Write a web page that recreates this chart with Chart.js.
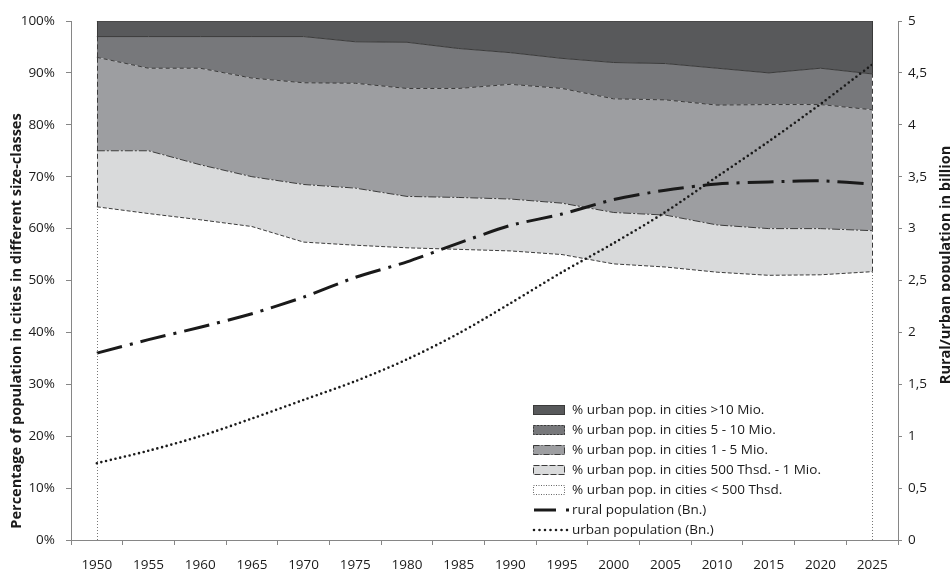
<!DOCTYPE html>
<html>
<head>
<meta charset="utf-8">
<script src="https://cdn.jsdelivr.net/npm/chart.js@4.4.1/dist/chart.umd.min.js"></script>
<style>
    html, body { margin: 0; padding: 0; background: #ffffff; }
    #chart { display: block; }
</style>
</head>
<body>
<canvas id="chart" width="950" height="572"></canvas>
<script>
// Data

let years = ['1950', '1955', '1960', '1965', '1970', '1975', '1980', '1985',
    '1990', '1995', '2000', '2005', '2010', '2015', '2020', '2025'];

// share of urban population per size class, in percent (stacked bottom -> top)
let under500k = [64.2, 62.9, 61.7, 60.4, 57.4, 56.8, 56.3, 56.0, 55.7, 55.0, 53.2, 52.6, 51.6, 51.0, 51.1, 51.7];
let from500kTo1m = [10.8, 12.1, 10.6, 9.6, 11.1, 11.0, 9.9, 10.0, 10.0, 9.9, 9.9, 10.0, 9.1, 9.0, 8.9, 7.9];
let from1To5m = [18.0, 15.9, 18.6, 19.0, 19.6, 20.2, 20.8, 21.0, 22.1, 22.1, 21.9, 22.2, 23.1, 23.9, 23.9, 23.3];
let from5To10m = [4.0, 6.1, 6.1, 8.0, 8.9, 8.0, 8.9, 7.7, 6.1, 5.8, 7.0, 7.0, 7.1, 6.1, 7.0, 6.9];
let over10m = [3.0, 3.0, 3.0, 3.0, 3.0, 4.0, 4.1, 5.3, 6.1, 7.2, 8.0, 8.2, 9.1, 10.0, 9.1, 10.2];

// population in billion (right axis)
let ruralBn = [1.80, 1.93, 2.05, 2.18, 2.34, 2.53, 2.68, 2.86, 3.03, 3.14, 3.28, 3.37, 3.43, 3.45, 3.46, 3.43];
let urbanBn = [0.74, 0.86, 1.00, 1.17, 1.35, 1.53, 1.74, 1.99, 2.28, 2.58, 2.86, 3.16, 3.50, 3.84, 4.20, 4.58];

let leftTitle = 'Percentage of population in cities in different size-classes';
let rightTitle = 'Rural/urban population in billion';

Chart.defaults.font.family = "'Open Sans', sans-serif";
Chart.defaults.font.size = 13.5;
Chart.defaults.color = '#1a1a1a';

const AXIS_GREY = '#868686';

function areaDataset(label, data, fillColor, lineDash, edgeDash, legendDash, fill) {
    return {
        type: 'line',
        label: label,
        data: data,
        yAxisID: 'y',
        fill: fill,
        backgroundColor: fillColor,
        borderColor: '#3a3a3a',
        borderWidth: 1,
        borderDash: lineDash,
        pointRadius: 0,
        tension: 0,
        edgeDash: edgeDash,
        legendDash: legendDash,
        isArea: true,
    };
}

let datasets = [
    {
        type: 'line',
        label: 'urban population (Bn.)',
        data: urbanBn,
        yAxisID: 'y1',
        borderColor: '#1a1a1a',
        borderWidth: 2.6,
        borderDash: [0, 4.8],
        legendDash: [0, 5.5],
        borderCapStyle: 'round',
        pointRadius: 0,
        fill: false,
        tension: 0.3,
    },
    {
        type: 'line',
        label: 'rural population (Bn.)',
        data: ruralBn,
        yAxisID: 'y1',
        borderColor: '#1a1a1a',
        borderWidth: 3,
        borderDash: [26, 8, 3, 8],
        legendDash: [22, 10, 3, 10],
        pointRadius: 0,
        fill: false,
        tension: 0.25,
    },
    areaDataset('% urban pop. in cities < 500 Thsd.', under500k, '#ffffff', [4, 2], [1, 2], [1, 1.5], 'origin'),
    areaDataset('% urban pop. in cities 500 Thsd. - 1 Mio.', from500kTo1m, '#d9dadb', [8, 2, 2, 2], [5, 3], [6, 2], '-1'),
    areaDataset('% urban pop. in cities 1 - 5 Mio.', from1To5m, '#9d9ea1', [4, 3], [5, 3], [6, 2, 1, 2], '-1'),
    areaDataset('% urban pop. in cities 5 - 10 Mio.', from5To10m, '#77787b', [], [5, 3], [2, 1.5], '-1'),
    areaDataset('% urban pop. in cities >10 Mio.', over10m, '#58595b', [], [], [], '-1'),
];

// vertical edges of the stacked areas at the first and last year
let areaEdges = {
    id: 'areaEdges',
    afterDatasetsDraw(chart) {
        let ctx = chart.ctx;
        let yScale = chart.scales.y;
        let prevMeta = null;
        chart.data.datasets.forEach((ds, i) => {
            if (!ds.isArea) return;
            let meta = chart.getDatasetMeta(i);
            [0, meta.data.length - 1].forEach(idx => {
                let top = meta.data[idx];
                let bottomY = prevMeta ? prevMeta.data[idx].y : yScale.getPixelForValue(0);
                ctx.save();
                ctx.strokeStyle = ds.edgeDash.length && ds.edgeDash[0] < 2 ? '#777' : '#3a3a3a';
                ctx.lineWidth = 1;
                ctx.setLineDash(ds.edgeDash);
                ctx.beginPath();
                ctx.moveTo(Math.round(top.x) + 0.5, bottomY);
                ctx.lineTo(Math.round(top.x) + 0.5, top.y);
                ctx.stroke();
                ctx.restore();
            });
            prevMeta = meta;
        });
    }
};

// axis titles (both read bottom -> top) and the legend inside the plot
let decorations = {
    id: 'decorations',
    afterDraw(chart) {
        let ctx = chart.ctx;
        let area = chart.chartArea;

        ctx.save();
        ctx.fillStyle = '#1a1a1a';
        ctx.font = "bold 14.5px 'Open Sans', sans-serif";
        ctx.textAlign = 'center';
        ctx.textBaseline = 'alphabetic';
        ctx.translate(20.5, 321);
        ctx.rotate(-Math.PI / 2);
        ctx.fillText(leftTitle, 0, 0);
        ctx.restore();

        ctx.save();
        ctx.fillStyle = '#1a1a1a';
        ctx.font = "bold 14.5px 'Open Sans', sans-serif";
        ctx.textAlign = 'center';
        ctx.textBaseline = 'alphabetic';
        ctx.translate(949.5, 265);
        ctx.rotate(-Math.PI / 2);
        ctx.fillText(rightTitle, 0, 0);
        ctx.restore();

        // legend
        let items = [6, 5, 4, 3, 2, 1, 0].map(i => chart.data.datasets[i]);
        let x0 = area.left + 462;
        let y0 = area.bottom - 130;
        ctx.save();
        ctx.font = "13.5px 'Open Sans', sans-serif";
        ctx.textBaseline = 'middle';
        ctx.textAlign = 'left';
        items.forEach((ds, row) => {
            let y = y0 + row * 20;
            if (ds.isArea) {
                ctx.fillStyle = ds.backgroundColor;
                ctx.fillRect(x0, y - 5, 32, 10);
                ctx.strokeStyle = ds.legendDash.length && ds.legendDash[0] < 2 ? '#666' : '#3a3a3a';
                ctx.lineWidth = 1;
                ctx.setLineDash(ds.legendDash);
                ctx.strokeRect(x0 + 0.5, y - 4.5, 31, 9);
            } else {
                ctx.strokeStyle = ds.borderColor;
                ctx.lineWidth = ds.borderWidth;
                ctx.lineCap = ds.borderCapStyle || 'butt';
                ctx.setLineDash(ds.legendDash);
                ctx.beginPath();
                ctx.moveTo(x0 + 1, y);
                ctx.lineTo(x0 + 36, y);
                ctx.stroke();
                ctx.lineCap = 'butt';
            }
            ctx.setLineDash([]);
            ctx.fillStyle = '#1a1a1a';
            ctx.fillText(ds.label, x0 + 39, y);
        });
        ctx.restore();
    }
};

let ctx = document.getElementById('chart').getContext('2d');
let chart = new Chart(ctx, {
    data: {
        labels: years,
        datasets: datasets,
    },
    options: {
        responsive: false,
        animation: false,
        events: [],
        layout: {
            padding: { top: 21, left: 0, right: 0, bottom: 0 },
        },
        plugins: {
            legend: { display: false },
            tooltip: { enabled: false },
            filler: { propagate: false },
        },
        scales: {
            x: {
                type: 'category',
                offset: true,
                grid: {
                    offset: true,
                    drawOnChartArea: false,
                    color: AXIS_GREY,
                    tickLength: 5,
                },
                border: { color: AXIS_GREY },
                ticks: { padding: 12, maxRotation: 0, autoSkip: false },
                afterFit: function (scale) { scale.height = 32; },
            },
            y: {
                position: 'left',
                stacked: true,
                min: 0,
                max: 100,
                grid: {
                    drawOnChartArea: false,
                    color: AXIS_GREY,
                    tickLength: 5,
                },
                border: { color: AXIS_GREY },
                ticks: {
                    stepSize: 10,
                    padding: 11,
                    callback: function (v) { return v + '%'; },
                },
                afterFit: function (scale) { scale.width = 71; },
            },
            y1: {
                position: 'right',
                stacked: false,
                min: 0,
                max: 5,
                grid: {
                    drawOnChartArea: false,
                    color: AXIS_GREY,
                    tickLength: 4,
                },
                border: { color: AXIS_GREY },
                ticks: {
                    stepSize: 0.5,
                    padding: 6,
                    callback: function (v) { return String(v).replace('.', ','); },
                },
                afterFit: function (scale) { scale.width = 52; },
            },
        },
    },
    plugins: [areaEdges, decorations],
});
</script>
</body>
</html>
